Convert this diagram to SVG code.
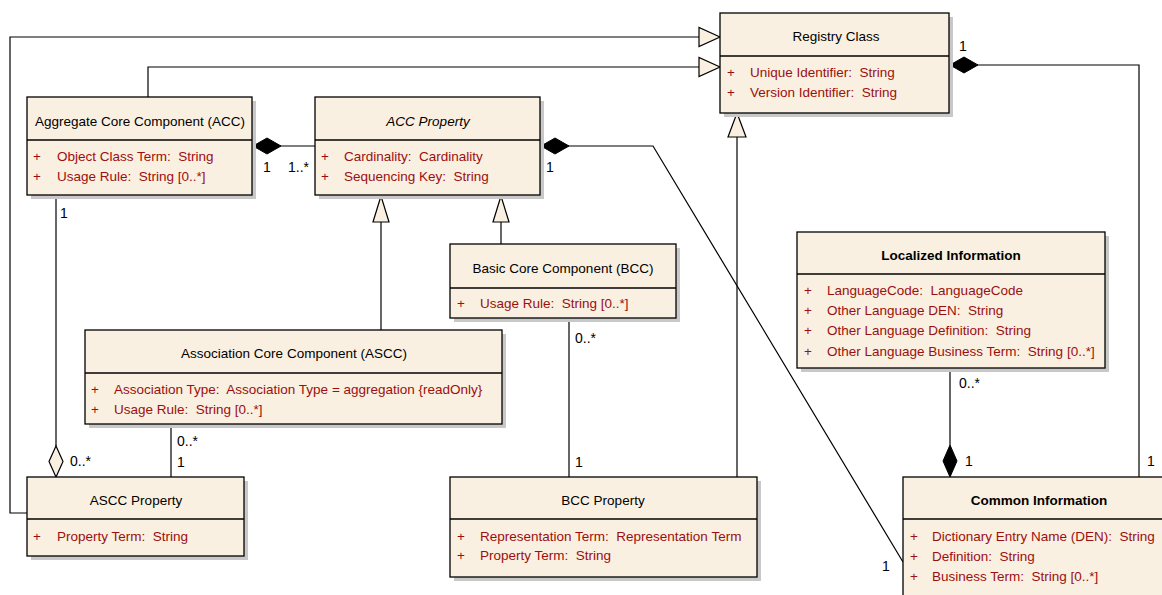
<svg xmlns="http://www.w3.org/2000/svg" width="1162" height="595" viewBox="0 0 1162 595">
<style>
text{font-family:"Liberation Sans",Arial,sans-serif;font-size:13.5px;}
.t{fill:#000;text-anchor:middle;}
.b{font-weight:bold;}
.i{font-style:italic;}
.a{fill:#9a0f0f;}
.lbl{fill:#000;font-size:14px;}
.box{fill:#FAF0E1;stroke:#000;stroke-width:1.3;}
.sh{fill:#c8c8c8;}
.sep{stroke:#000;stroke-width:1.3;}
.ln{fill:none;stroke:#000;stroke-width:1.2;}
.comp{fill:#000;stroke:#000;stroke-width:1;}
.agg{fill:#FAF0E1;stroke:#000;stroke-width:1.2;}
.gen{fill:#FAF0E1;stroke:#000;stroke-width:1.2;}
</style>
<rect width="1162" height="595" fill="#fff"/>
<g id="connectors">
<polyline class="ln" points="27,513 10,513 10,37 700,37"/>
<polygon class="gen" points="720,37 699,27.5 699,46.5"/>
<polyline class="ln" points="148,97 148,67 700,67"/>
<polygon class="gen" points="720,67 699,57.5 699,76.5"/>
<line class="ln" x1="737" y1="477" x2="737" y2="135"/>
<polygon class="gen" points="737,113 728,137 746,137"/>
<line class="ln" x1="381" y1="330" x2="381" y2="218"/>
<polygon class="gen" points="381,196 373,222 389,222"/>
<line class="ln" x1="501" y1="244" x2="501" y2="218"/>
<polygon class="gen" points="501,196 493,222 509,222"/>
<line class="ln" x1="280" y1="146" x2="315" y2="146"/>
<polygon class="comp" points="253,146 267,138 281,146 267,154"/>
<polyline class="ln" points="568,146 653,146 903,562"/>
<polygon class="comp" points="541,146 555,138 569,146 555,154"/>
<polyline class="ln" points="977,65 1139,65 1139,477"/>
<polygon class="comp" points="950,65 964,57 978,65 964,73"/>
<line class="ln" x1="56" y1="195" x2="56" y2="446"/>
<polygon class="agg" points="56,477 49,461.5 56,446 63,461.5"/>
<line class="ln" x1="171" y1="424" x2="171" y2="477"/>
<line class="ln" x1="569" y1="318" x2="569" y2="477"/>
<line class="ln" x1="950" y1="368" x2="950" y2="445"/>
<polygon class="comp" points="950,477 943,461 950,445 957,461"/>
<text class="lbl" x="263" y="172">1</text>
<text class="lbl" x="288" y="172">1..*</text>
<text class="lbl" x="546" y="172">1</text>
<text class="lbl" x="959" y="51">1</text>
<text class="lbl" x="1147" y="466">1</text>
<text class="lbl" x="882" y="571">1</text>
<text class="lbl" x="60" y="218">1</text>
<text class="lbl" x="70" y="466">0..*</text>
<text class="lbl" x="177" y="446">0..*</text>
<text class="lbl" x="177" y="467">1</text>
<text class="lbl" x="575" y="343">0..*</text>
<text class="lbl" x="575" y="467">1</text>
<text class="lbl" x="959" y="388">0..*</text>
<text class="lbl" x="965" y="466">1</text>
</g>
<g id="registry-class">
<rect class="sh" x="724" y="17" width="229" height="100"/>
<rect class="box" x="720" y="13" width="229" height="100"/>
<line class="sep" x1="720" y1="56" x2="949" y2="56"/>
<text class="t" x="836" y="41">Registry Class</text>
<text class="a" x="727" y="77">+</text><text class="a" x="750" y="77">Unique Identifier:&#160; String</text>
<text class="a" x="727" y="97">+</text><text class="a" x="750" y="97">Version Identifier:&#160; String</text>
</g>
<g id="acc">
<rect class="sh" x="31" y="101" width="225" height="98"/>
<rect class="box" x="27" y="97" width="225" height="98"/>
<line class="sep" x1="27" y1="140" x2="252" y2="140"/>
<text class="t" x="140" y="126">Aggregate Core Component (ACC)</text>
<text class="a" x="33" y="161">+</text><text class="a" x="57" y="161">Object Class Term:&#160; String</text>
<text class="a" x="33" y="181">+</text><text class="a" x="57" y="181">Usage Rule:&#160; String [0..*]</text>
</g>
<g id="acc-property">
<rect class="sh" x="319" y="101" width="225" height="98"/>
<rect class="box" x="315" y="97" width="225" height="98"/>
<line class="sep" x1="315" y1="140" x2="540" y2="140"/>
<text class="t i" x="428" y="126">ACC Property</text>
<text class="a" x="321" y="161">+</text><text class="a" x="344" y="161">Cardinality:&#160; Cardinality</text>
<text class="a" x="321" y="181">+</text><text class="a" x="344" y="181">Sequencing Key:&#160; String</text>
</g>
<g id="bcc">
<rect class="sh" x="454" y="248" width="226" height="74"/>
<rect class="box" x="450" y="244" width="226" height="74"/>
<line class="sep" x1="450" y1="288" x2="676" y2="288"/>
<text class="t" x="563" y="273">Basic Core Component (BCC)</text>
<text class="a" x="457" y="308">+</text><text class="a" x="480" y="308">Usage Rule:&#160; String [0..*]</text>
</g>
<g id="ascc">
<rect class="sh" x="89" y="334" width="417" height="94"/>
<rect class="box" x="85" y="330" width="417" height="94"/>
<line class="sep" x1="85" y1="373" x2="502" y2="373"/>
<text class="t" x="294" y="358">Association Core Component (ASCC)</text>
<text class="a" x="91" y="394">+</text><text class="a" x="114" y="394">Association Type:&#160; Association Type = aggregation {readOnly}</text>
<text class="a" x="91" y="414">+</text><text class="a" x="114" y="414">Usage Rule:&#160; String [0..*]</text>
</g>
<g id="localized-information">
<rect class="sh" x="801" y="236" width="308" height="136"/>
<rect class="box" x="797" y="232" width="308" height="136"/>
<line class="sep" x1="797" y1="274" x2="1105" y2="274"/>
<text class="t b" x="951" y="260">Localized Information</text>
<text class="a" x="804" y="295">+</text><text class="a" x="827" y="295">LanguageCode:&#160; LanguageCode</text>
<text class="a" x="804" y="315">+</text><text class="a" x="827" y="315">Other Language DEN:&#160; String</text>
<text class="a" x="804" y="335">+</text><text class="a" x="827" y="335">Other Language Definition:&#160; String</text>
<text class="a" x="804" y="356">+</text><text class="a" x="827" y="356">Other Language Business Term:&#160; String [0..*]</text>
</g>
<g id="ascc-property">
<rect class="sh" x="31" y="481" width="217" height="79"/>
<rect class="box" x="27" y="477" width="217" height="79"/>
<line class="sep" x1="27" y1="519" x2="244" y2="519"/>
<text class="t" x="136" y="505">ASCC Property</text>
<text class="a" x="33" y="541">+</text><text class="a" x="57" y="541">Property Term:&#160; String</text>
</g>
<g id="bcc-property">
<rect class="sh" x="454" y="481" width="307" height="100"/>
<rect class="box" x="450" y="477" width="307" height="100"/>
<line class="sep" x1="450" y1="519" x2="757" y2="519"/>
<text class="t" x="603" y="505">BCC Property</text>
<text class="a" x="457" y="541">+</text><text class="a" x="480" y="541">Representation Term:&#160; Representation Term</text>
<text class="a" x="457" y="560">+</text><text class="a" x="480" y="560">Property Term:&#160; String</text>
</g>
<g id="common-information">
<rect class="sh" x="907" y="481" width="272" height="130"/>
<rect class="box" x="903" y="477" width="272" height="130"/>
<line class="sep" x1="903" y1="519" x2="1175" y2="519"/>
<text class="t b" x="1039" y="505">Common Information</text>
<text class="a" x="910" y="541">+</text><text class="a" x="932" y="541">Dictionary Entry Name (DEN):&#160; String</text>
<text class="a" x="910" y="561">+</text><text class="a" x="932" y="561">Definition:&#160; String</text>
<text class="a" x="910" y="581">+</text><text class="a" x="932" y="581">Business Term:&#160; String [0..*]</text>
</g>
</svg>
